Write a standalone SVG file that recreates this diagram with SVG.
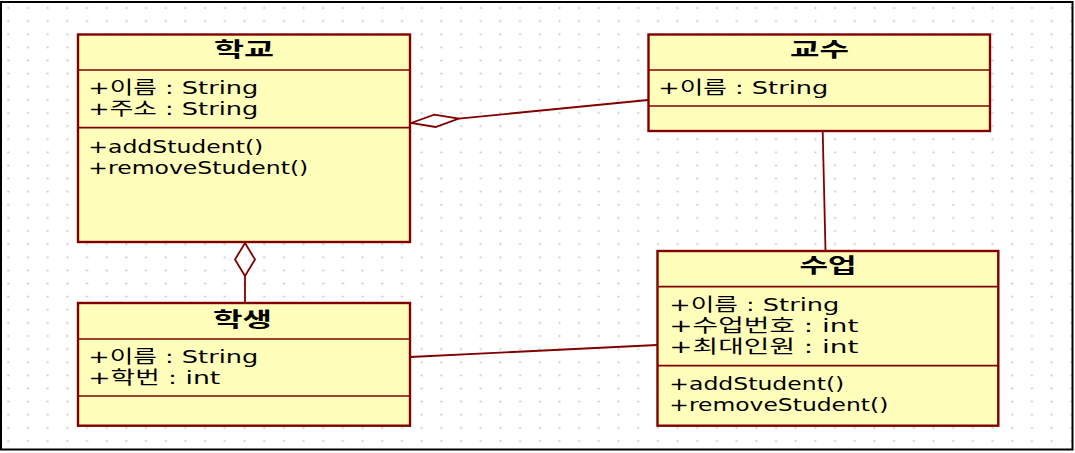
<svg xmlns="http://www.w3.org/2000/svg" width="1075" height="453" viewBox="0 0 1075 453">
<style>
.box{fill:#FFFFBB;stroke:#800000;stroke-width:2.4}
.div{stroke:#800000;stroke-width:1.7}
.t{font-family:"DejaVu Sans","Noto Sans CJK KR",sans-serif;font-size:18px;fill:#000}
.h{font-family:"Noto Sans CJK KR","DejaVu Sans",sans-serif;font-size:20px;font-weight:bold;fill:#000;text-anchor:middle}
.c{stroke:#800000;stroke-width:1.8;fill:none}
.d{stroke:#800000;stroke-width:1.8;fill:#fff}
</style>
<defs>
<pattern id="grid" patternUnits="userSpaceOnUse" x="0" y="0" width="19.685" height="13.12">
<rect x="7.3" y="7.2" width="2" height="1.6" fill="#c4c4c4"/>
</pattern>
</defs>
<rect x="0" y="0" width="1075" height="453" fill="#fff"/>
<rect x="1" y="2" width="1071.5" height="447.5" fill="url(#grid)" stroke="#000" stroke-width="2"/>
<g id="connectors">
<line class="c" x1="822.7" y1="131" x2="825.5" y2="251"/>
<line class="c" x1="410" y1="357" x2="657" y2="345"/>
<line class="c" x1="245" y1="276" x2="245" y2="303"/>
<polygon class="d" points="245,243 255,259.5 245,276 235,259.5"/>
<line class="c" x1="458.8" y1="118.6" x2="648" y2="100"/>
<polygon class="d" points="411,123 434.3,114.6 458.8,118.6 435.5,127"/>
</g>
<g id="school">
<rect class="box" x="78" y="34.5" width="332" height="207.5"/>
<line class="div" x1="78" y1="70" x2="410" y2="70"/>
<line class="div" x1="78" y1="127.7" x2="410" y2="127.7"/>
<text class="h" x="244" y="56.5" textLength="60" lengthAdjust="spacingAndGlyphs">학교</text>
<text class="t" x="88.3" y="94" textLength="170" lengthAdjust="spacingAndGlyphs">+이름 : String</text>
<text class="t" x="88.3" y="115" textLength="170" lengthAdjust="spacingAndGlyphs">+주소 : String</text>
<text class="t" x="88.3" y="153" textLength="175" lengthAdjust="spacingAndGlyphs">+addStudent()</text>
<text class="t" x="88.3" y="174" textLength="220" lengthAdjust="spacingAndGlyphs">+removeStudent()</text>
</g>
<g id="professor">
<rect class="box" x="648.5" y="34.5" width="341.5" height="96.5"/>
<line class="div" x1="648.5" y1="70" x2="990" y2="70"/>
<line class="div" x1="648.5" y1="106" x2="990" y2="106"/>
<text class="h" x="819.5" y="56.5" textLength="59" lengthAdjust="spacingAndGlyphs">교수</text>
<text class="t" x="658.3" y="94" textLength="170" lengthAdjust="spacingAndGlyphs">+이름 : String</text>
</g>
<g id="student">
<rect class="box" x="78" y="303" width="332" height="122.7"/>
<line class="div" x1="78" y1="339" x2="410" y2="339"/>
<line class="div" x1="78" y1="396" x2="410" y2="396"/>
<text class="h" x="242.5" y="326.5" textLength="59" lengthAdjust="spacingAndGlyphs">학생</text>
<text class="t" x="88.3" y="363" textLength="170" lengthAdjust="spacingAndGlyphs">+이름 : String</text>
<text class="t" x="88.3" y="384" textLength="132" lengthAdjust="spacingAndGlyphs">+학번 : int</text>
</g>
<g id="course">
<rect class="box" x="657.5" y="251" width="340.8" height="174.7"/>
<line class="div" x1="657.5" y1="286.7" x2="998.3" y2="286.7"/>
<line class="div" x1="657.5" y1="365.7" x2="998.3" y2="365.7"/>
<text class="h" x="828" y="273" textLength="57" lengthAdjust="spacingAndGlyphs">수업</text>
<text class="t" x="669.3" y="311" textLength="170" lengthAdjust="spacingAndGlyphs">+이름 : String</text>
<text class="t" x="669.3" y="332" textLength="189" lengthAdjust="spacingAndGlyphs">+수업번호 : int</text>
<text class="t" x="669.3" y="353" textLength="189" lengthAdjust="spacingAndGlyphs">+최대인원 : int</text>
<text class="t" x="669.3" y="390" textLength="175" lengthAdjust="spacingAndGlyphs">+addStudent()</text>
<text class="t" x="669.3" y="411" textLength="219" lengthAdjust="spacingAndGlyphs">+removeStudent()</text>
</g>
</svg>
